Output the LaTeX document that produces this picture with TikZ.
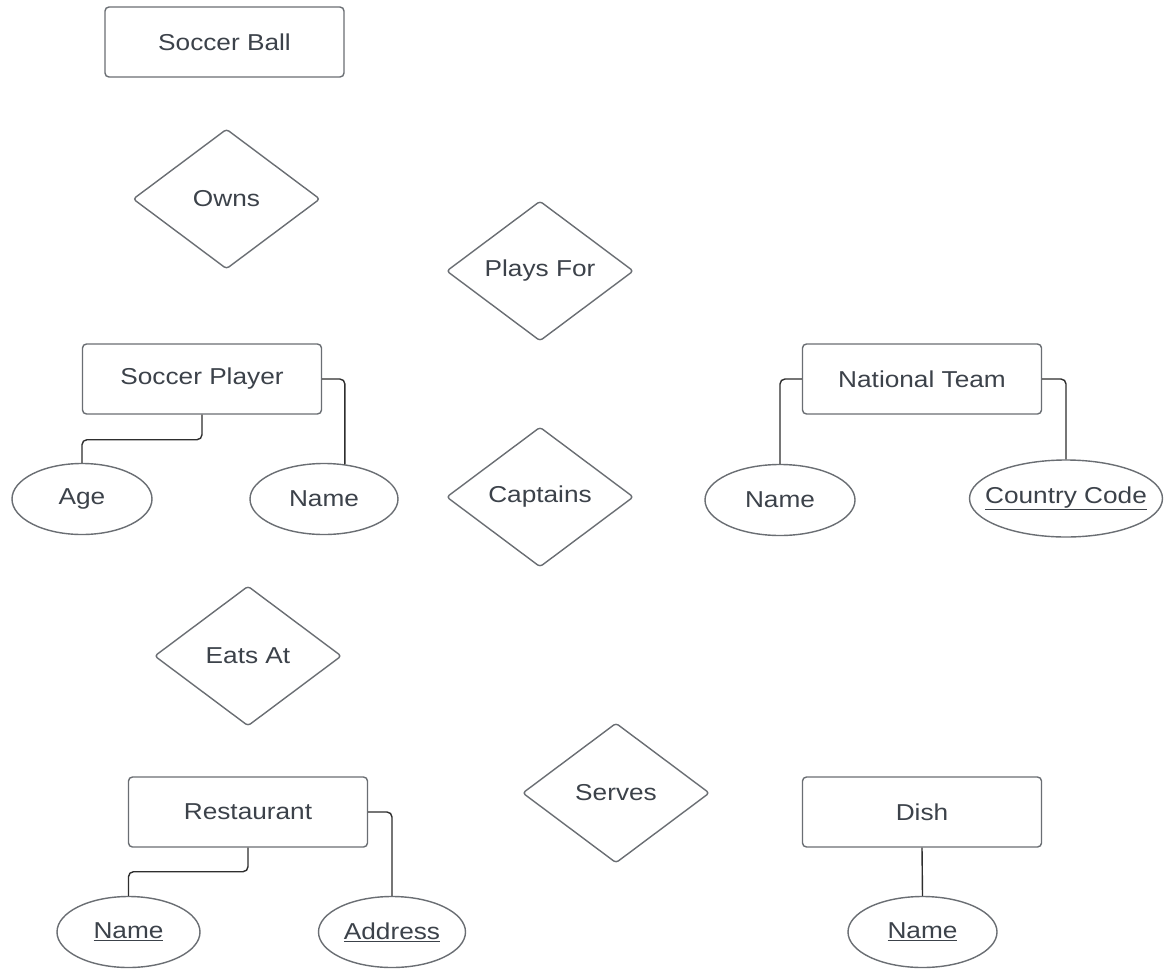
\documentclass[tikz,border=0pt]{standalone}
\usepackage{fontspec}
\setmainfont{Liberation Sans}[FakeStretch=1.14]
\usetikzlibrary{shapes.geometric}
\definecolor{boxline}{HTML}{6A6E73}
\definecolor{connline}{HTML}{2E2E2E}
\definecolor{txt}{HTML}{3C424A}
\newcommand{\attrtext}[1]{\makebox[0pt]{#1}}
\tikzset{
  base/.style={draw=boxline, line width=1.4pt, text=txt, inner sep=0pt, font=\fontsize{23}{26}\selectfont},
  entity/.style={base, rectangle, rounded corners=4pt, minimum width=239pt, minimum height=70pt},
  rel/.style={base, diamond, rounded corners=3pt, minimum width=187pt, minimum height=140pt},
  attr/.style={base, ellipse, minimum height=71pt},
  conn/.style={draw=connline, line width=1.4pt, rounded corners=5pt},
}
\begin{document}
\begin{tikzpicture}[x=1pt,y=-1pt]
\useasboundingbox[fill=white] (0,0) rectangle (1164,969);
\node[entity] (ball) at (224.5,42) {Soccer Ball};
\node[rel] (owns) at (226.5,199) {\attrtext{Owns}};
\node[rel] (plays) at (540,271) {\attrtext{Plays For}};
\node[entity] (player) at (202,379) {Soccer Player};
\node[entity] (team) at (922,379) {National Team};
\node[rel] (capt) at (540,497) {\attrtext{Captains}};
\node[attr, minimum width=140pt] (age) at (82,499) {\attrtext{Age}};
\node[attr, minimum width=148pt] (pname) at (324,499) {\attrtext{Name}};
\node[attr, minimum width=150pt] (tname) at (780,500) {\attrtext{Name}};
\node[attr, minimum width=193pt, minimum height=77pt] (code) at (1066,498.5) {\attrtext{\underline{Country Code}}};
\node[rel] (eats) at (248,656) {\attrtext{Eats At}};
\node[entity] (rest) at (248,812) {Restaurant};
\node[rel] (serves) at (616,793) {\attrtext{Serves}};
\node[entity] (dish) at (922,812) {Dish};
\node[attr, minimum width=143pt] (rname) at (128.5,932) {\attrtext{\underline{Name}}};
\node[attr, minimum width=147pt] (addr) at (392,932) {\attrtext{\underline{Address}}};
\node[attr, minimum width=149pt] (dname) at (922.5,932) {\attrtext{\underline{Name}}};
\draw[conn] (player.south) -- ++(0,25) -| (age.north);
\draw[conn] (player.east) -| (pname.59);
\draw[conn] (team.west) -| (tname.north);
\draw[conn] (team.east) -| (code.north);
\draw[conn] (rest.south) -- ++(0,24) -| (rname.north);
\draw[conn] (rest.east) -| (addr.north);
\draw[conn] (dish.south) -- (dname.north);
\end{tikzpicture}
\end{document}
